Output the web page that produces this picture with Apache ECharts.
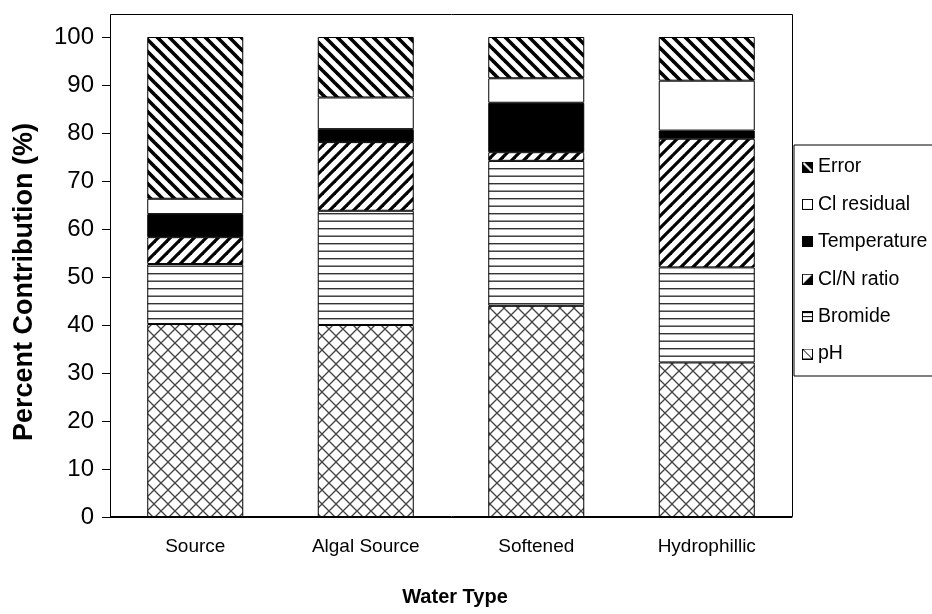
<!DOCTYPE html>
<html>
<head>
<meta charset="utf-8">
<script src="https://cdn.jsdelivr.net/npm/echarts@6/dist/echarts.min.js"></script>
<style>
  html, body { margin: 0; padding: 0; background: #fff; }
  #chart { width: 932px; height: 614px; }
</style>
</head>
<body>
<div id="chart"></div>
<script>
// Percent contribution of each factor, stacked bottom to top
const categories = ['Source', 'Algal Source', 'Softened', 'Hydrophillic'];
const phValues = [40.2, 40.0, 44.0, 32.2];
const bromideValues = [12.5, 23.8, 30.2, 19.8];
const clnRatioValues = [5.6, 14.3, 1.8, 26.8];
const temperatureValues = [4.8, 2.7, 10.3, 1.7];
const clResidualValues = [3.2, 6.6, 5.1, 10.4];
const errorValues = [33.7, 12.6, 8.6, 9.1];
const legendOrder = ['Error', 'Cl residual', 'Temperature', 'Cl/N ratio', 'Bromide', 'pH'];

const FONT = "'Liberation Sans', Arial, sans-serif";

// Build a small canvas tile used as a repeating fill
function tile(w, h, draw) {
  const c = document.createElement('canvas');
  c.width = w; c.height = h;
  const g = c.getContext('2d');
  g.fillStyle = '#fff';
  g.fillRect(0, 0, w, h);
  draw(g, w, h);
  return c;
}

const errorTile = tile(12, 12, (g) => {
  g.strokeStyle = '#000'; g.lineWidth = 3.6;
  for (const k of [-12, 0, 12]) {
    g.beginPath(); g.moveTo(k - 6, -6); g.lineTo(k + 18, 18); g.stroke();
  }
});
const clnTile = tile(12, 12, (g) => {
  g.strokeStyle = '#000'; g.lineWidth = 3.2;
  for (const k of [-12, 0, 12]) {
    g.beginPath(); g.moveTo(k - 6, 18); g.lineTo(k + 18, -6); g.stroke();
  }
});
const bromideTile = tile(6, 15, (g) => {
  g.fillStyle = '#333';
  g.fillRect(0, 3, 6, 1.4);
  g.fillRect(0, 10.5, 6, 1.4);
});
const phTile = tile(14, 14, (g) => {
  g.strokeStyle = '#444'; g.lineWidth = 1.3;
  for (const k of [-14, 0, 14]) {
    g.beginPath(); g.moveTo(k - 7, -7); g.lineTo(k + 21, 21); g.stroke();
    g.beginPath(); g.moveTo(k - 7, 21); g.lineTo(k + 21, -7); g.stroke();
  }
});

function pattern(c) { return { image: c, repeat: 'repeat' }; }

// Legend key icons
function icon(draw) {
  const c = tile(11, 11, draw);
  return 'image://' + c.toDataURL();
}
function frame(g) { g.strokeStyle = '#000'; g.lineWidth = 1; g.strokeRect(0.5, 0.5, 10, 10); }
const icons = {
  'Error': icon((g) => {
    g.fillStyle = '#000'; g.fillRect(0, 0, 11, 11);
    g.strokeStyle = '#fff'; g.lineWidth = 2;
    g.beginPath(); g.moveTo(1.5, 1.5); g.lineTo(9.5, 9.5); g.stroke();
    frame(g);
  }),
  'Cl residual': icon((g) => frame(g)),
  'Temperature': icon((g) => { g.fillStyle = '#000'; g.fillRect(0, 0, 11, 11); }),
  'Cl/N ratio': icon((g) => {
    g.fillStyle = '#000';
    g.beginPath(); g.moveTo(11, 0); g.lineTo(11, 11); g.lineTo(0, 11); g.closePath(); g.fill();
    frame(g);
  }),
  'Bromide': icon((g) => {
    g.fillStyle = '#000';
    g.fillRect(0, 0, 11, 2); g.fillRect(0, 9, 11, 2); g.fillRect(0, 5, 11, 1);
    frame(g);
  }),
  'pH': icon((g) => {
    g.strokeStyle = '#000'; g.lineWidth = 1;
    g.beginPath(); g.moveTo(1, 1); g.lineTo(10, 10); g.stroke();
    frame(g);
  })
};

function barSeries(name, values, fill) {
  return {
    name: name,
    type: 'bar',
    stack: 'total',
    barWidth: 96,
    data: values,
    itemStyle: { color: fill, borderColor: '#000', borderWidth: 1 },
    emphasis: { disabled: true },
    silent: true
  };
}

const chart = echarts.init(document.getElementById('chart'), null, { renderer: 'canvas' });
chart.setOption({
  animation: false,
  backgroundColor: '#fff',
  textStyle: { fontFamily: FONT, color: '#000' },
  grid: { left: 110, right: 140, top: 37, bottom: 97, containLabel: false },
  graphic: [{
    type: 'rect',
    shape: { x: 110.5, y: 14.5, width: 682, height: 502 },
    style: { fill: 'none', stroke: '#000', lineWidth: 1 },
    z: 0, silent: true
  }],
  legend: {
    orient: 'vertical',
    left: 794, top: 145,
    padding: [12, 200, 12, 8],
    borderColor: '#000', borderWidth: 1,
    itemWidth: 11, itemHeight: 11, itemGap: 17.4,
    selectedMode: false,
    textStyle: { fontFamily: FONT, fontSize: 19.5, lineHeight: 19.5, color: '#000' },
    data: legendOrder.map(n => ({ name: n, icon: icons[n] }))
  },
  xAxis: {
    type: 'category',
    data: categories,
    axisLine: { lineStyle: { color: '#000', width: 1 } },
    axisTick: { length: 7, lineStyle: { color: '#000' } },
    axisLabel: { fontFamily: FONT, fontSize: 19, color: '#000', margin: 20 },
    name: 'Water Type',
    nameLocation: 'middle',
    nameGap: 70,
    nameTextStyle: { fontFamily: FONT, fontSize: 20, fontWeight: 'bold', color: '#000', padding: [0, 0, 0, 8] }
  },
  yAxis: {
    type: 'value',
    min: 0, max: 100, interval: 10,
    axisLine: { show: true, lineStyle: { color: '#000', width: 1 } },
    axisTick: { show: true, length: 8, lineStyle: { color: '#000' } },
    splitLine: { show: false },
    axisLabel: { fontFamily: FONT, fontSize: 24, color: '#000', margin: 16 },
    name: 'Percent Contribution (%)',
    nameLocation: 'middle',
    nameRotate: 90,
    nameGap: 72,
    nameTextStyle: { fontFamily: FONT, fontSize: 27, fontWeight: 'bold', color: '#000', padding: [0, 10, 0, 0] }
  },
  series: [
    barSeries('pH', phValues, pattern(phTile)),
    barSeries('Bromide', bromideValues, pattern(bromideTile)),
    barSeries('Cl/N ratio', clnRatioValues, pattern(clnTile)),
    barSeries('Temperature', temperatureValues, '#000'),
    barSeries('Cl residual', clResidualValues, '#fff'),
    barSeries('Error', errorValues, pattern(errorTile))
  ]
});
</script>
</body>
</html>
